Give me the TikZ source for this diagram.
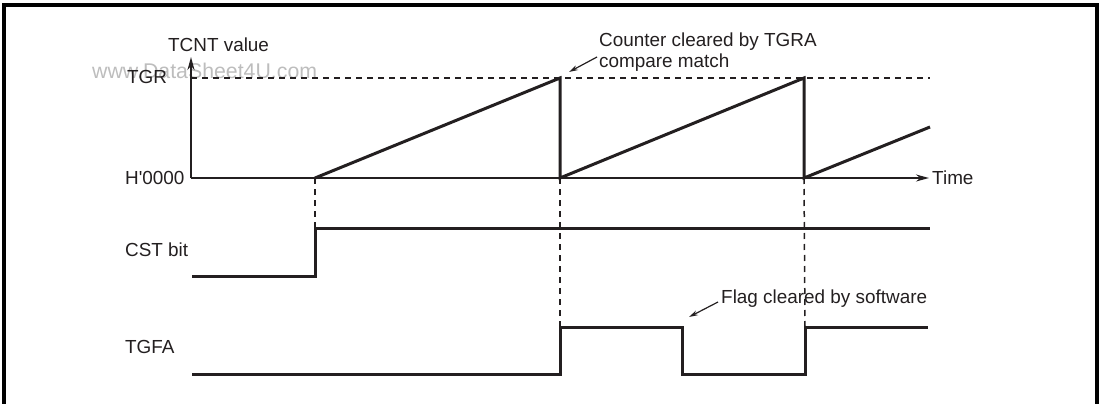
\documentclass[tikz,border=0pt]{standalone}
\usepackage{fontspec}
\setmainfont{Liberation Sans}
\usetikzlibrary{arrows.meta}
\definecolor{ink}{HTML}{231F20}
\definecolor{wmark}{HTML}{BDBDBD}
\begin{document}
\begin{tikzpicture}[x=1pt,y=-1pt,
  lbl/.style={anchor=base west,inner sep=0pt,text=ink,font=\fontsize{18.9}{22}\selectfont},
  sig/.style={draw=ink,line width=3pt,line join=miter},
  axisline/.style={draw=ink,line width=1.6pt},
  guide/.style={draw=ink,line width=1.5pt,dash pattern=on 6pt off 5pt},
  axtip/.style={-{Stealth[length=13pt,width=7pt]}},
  note/.style={draw=ink,line width=1.2pt,-{Stealth[length=9pt,width=5pt]}}]
\useasboundingbox (0,0) rectangle (1101,404);
% frame
\draw[draw=black,line width=4pt] (4,412) -- (4,5) -- (1097,5) -- (1097,412);
% key points
\coordinate (O) at (191,178);
\coordinate (Ytop) at (191,57);
\coordinate (Xend) at (929,178);
\coordinate (tgrL) at (191,78);
\coordinate (tgrR) at (930,78);
\coordinate (a0) at (315,178);
\coordinate (a1) at (560,78);
\coordinate (b0) at (560,178);
\coordinate (b1) at (804,78);
\coordinate (c0) at (804,178);
\coordinate (c1) at (930,127);
% CST
\coordinate (cst0) at (192,276);
\coordinate (cstL) at (315,276);
\coordinate (cstH) at (315,228);
\coordinate (cst1) at (930,228);
% TGFA
\coordinate (tg0) at (192,374);
\coordinate (tgA) at (560,374);
\coordinate (tgB) at (560,327);
\coordinate (tgC) at (682,327);
\coordinate (tgD) at (682,374);
\coordinate (tgE) at (805,374);
\coordinate (tgF) at (805,327);
\coordinate (tg1) at (928,327);
% watermark
\node[lbl,text=wmark,font=\fontsize{21.3}{24}\selectfont] (wm) at (92,79) {www.DataSheet4U.com};
% labels
\node[lbl] (tcnt) at (168,52) {TCNT value};
\node[lbl] (tgr) at (127,83.5) {TGR};
\node[lbl] (h0) at (125,184) {H\textquotesingle 0000};
\node[lbl] (time) at (932,184) {Time};
\node[lbl] (cst) at (125,256) {CST bit};
\node[lbl] (tgfa) at (125,353) {TGFA};
\node[lbl] (cnt1) at (599,46.5) {Counter cleared by TGRA};
\node[lbl] (cnt2) at (599,67.5) {compare match};
\node[lbl] (flag) at (721,303.5) {Flag cleared by software};
% guides
\draw[guide] (tgrL) -- (tgrR);
\draw[guide] (a0) -- (cstH);
\draw[guide] (b0) -- (tgB);
\draw[guide] (c0) -- (tgF);
% axes
\draw[axisline,axtip] (O) -- (Ytop);
\draw[axisline,axtip] (O) -- (Xend);
% counter waveform
\draw[sig] (a0) -- (a1) -- (b0) -- (b1) -- (c0) -- (c1);
% CST waveform
\draw[sig] (cst0) -- (cstL) -- (cstH) -- (cst1);
% TGFA waveform
\draw[sig] (tg0) -- (tgA) -- (tgB) -- (tgC) -- (tgD) -- (tgE) -- (tgF) -- (tg1);
% annotation arrows
\coordinate (n1s) at (597,57);
\coordinate (n1e) at (569,72);
\coordinate (n2s) at (718,302);
\coordinate (n2e) at (689,317);
\draw[note] (n1s) -- (n1e);
\draw[note] (n2s) -- (n2e);
\end{tikzpicture}
\end{document}
